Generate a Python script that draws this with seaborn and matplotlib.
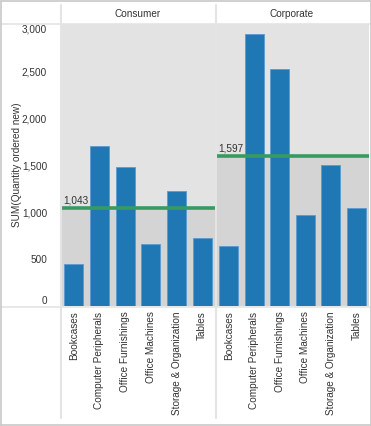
import numpy as np
import matplotlib.pyplot as plt
from matplotlib.lines import Line2D
import seaborn as sns

# data
segments = ["Consumer", "Corporate"]
categories = ["Bookcases", "Computer Peripherals", "Office Furnishings",
              "Office Machines", "Storage & Organization", "Tables"]
consumer_qty = [446, 1708, 1486, 665, 1229, 724]
corporate_qty = [636, 2897, 2531, 970, 1503, 1045]
y_ticks = [0, 500, 1000, 1500, 2000, 2500, 3000]

W, H = 371, 426
BLUE = "#1f77b4"
GREEN = "#379a60"
TEXT = "#333333"
GRID = "#e4e4e4"


def box(x0, y0, x1, y1):
    # pixel box (top-left origin) -> figure coords
    return [x0 / W, 1 - y1 / H, (x1 - x0) / W, (y1 - y0) / H]


def fig_line(fig, x0, y0, x1, y1, color=GRID, lw=1.2):
    fig.add_artist(Line2D([x0 / W, x1 / W], [1 - y0 / H, 1 - y1 / H],
                          color=color, lw=lw, zorder=5))


def draw_panel(ax, values, show_y):
    mean = np.mean(values)
    ax.set_facecolor("#e3e3e3")
    ax.axhspan(0, mean, color="#d4d4d4", zorder=0)
    sns.barplot(x=categories, y=values, ax=ax, color=BLUE, width=0.75,
                edgecolor="#5b9bd0", linewidth=0.6, saturation=1, zorder=2)
    ax.axhline(mean, color=GREEN, lw=2.6, zorder=3)
    ax.text(0.015, mean + 30, f"{mean:,.0f}", transform=ax.get_yaxis_transform(),
            fontsize=7.2, color=TEXT, va="bottom", ha="left", zorder=4)
    ax.set_xlim(-0.5, len(categories) - 0.5)
    ax.set_ylim(0, 3006)
    ax.set_xlabel("")
    ax.set_ylabel("")
    for s in ax.spines.values():
        s.set_visible(False)

    ax.set_xticks(range(len(categories)))
    ax.set_xticklabels(categories, rotation=90, fontsize=7.2, color=TEXT)
    ax.tick_params(axis="x", which="major", length=0, pad=4)
    ax.set_xticks(np.arange(0.5, len(categories) - 1), minor=True)
    ax.tick_params(axis="x", which="minor", length=4, color=GRID, width=1)

    ax.set_yticks(y_ticks)
    if show_y:
        ax.set_yticklabels([f"{v:,}" for v in y_ticks], fontsize=7.2, color=TEXT)
        ax.tick_params(axis="y", length=7, color=GRID, width=1, pad=3)
        labels = ax.get_yticklabels()
        labels[0].set_verticalalignment("bottom")
        labels[-1].set_verticalalignment("top")
    else:
        ax.tick_params(axis="y", left=False, labelleft=False)


def make_chart():
    sns.set_style("white")
    plt.rcParams["font.family"] = ["Liberation Sans", "DejaVu Sans"]

    fig = plt.figure(figsize=(W / 100, H / 100), dpi=100)
    fig.patch.set_facecolor("white")

    ax1 = fig.add_axes(box(61, 24, 215, 306))
    ax2 = fig.add_axes(box(216, 24, 369, 306))
    draw_panel(ax1, consumer_qty, True)
    draw_panel(ax2, corporate_qty, False)

    # panel headers
    fig.text(138 / W, 1 - 14 / H, segments[0], ha="center", va="center",
             fontsize=7.2, color=TEXT)
    fig.text(292 / W, 1 - 14 / H, segments[1], ha="center", va="center",
             fontsize=7.2, color=TEXT)
    fig.text(17 / W, 1 - 165 / H, "SUM(Quantity ordered new)", rotation=90,
             ha="center", va="center", fontsize=7.2, color=TEXT)

    # table-like separators
    fig_line(fig, 0, 24, 370, 24)
    fig_line(fig, 0, 306.5, 370, 306.5)
    fig_line(fig, 60.5, 5, 60.5, 418, lw=1.5)
    fig_line(fig, 215.5, 5, 215.5, 418, lw=1.5)

    # outer border
    fig_line(fig, 0.5, 0.5, 370.5, 0.5, color="#c8c8c8")
    fig_line(fig, 0.5, 0.5, 0.5, 425.5, color="#c8c8c8")
    fig_line(fig, 370.5, 0.5, 370.5, 425.5, color="#c8c8c8")
    fig_line(fig, 0.5, 424.5, 370.5, 424.5, color="#c8c8c8")

    fig.savefig("out.png", dpi=100)


if __name__ == "__main__":
    make_chart()
